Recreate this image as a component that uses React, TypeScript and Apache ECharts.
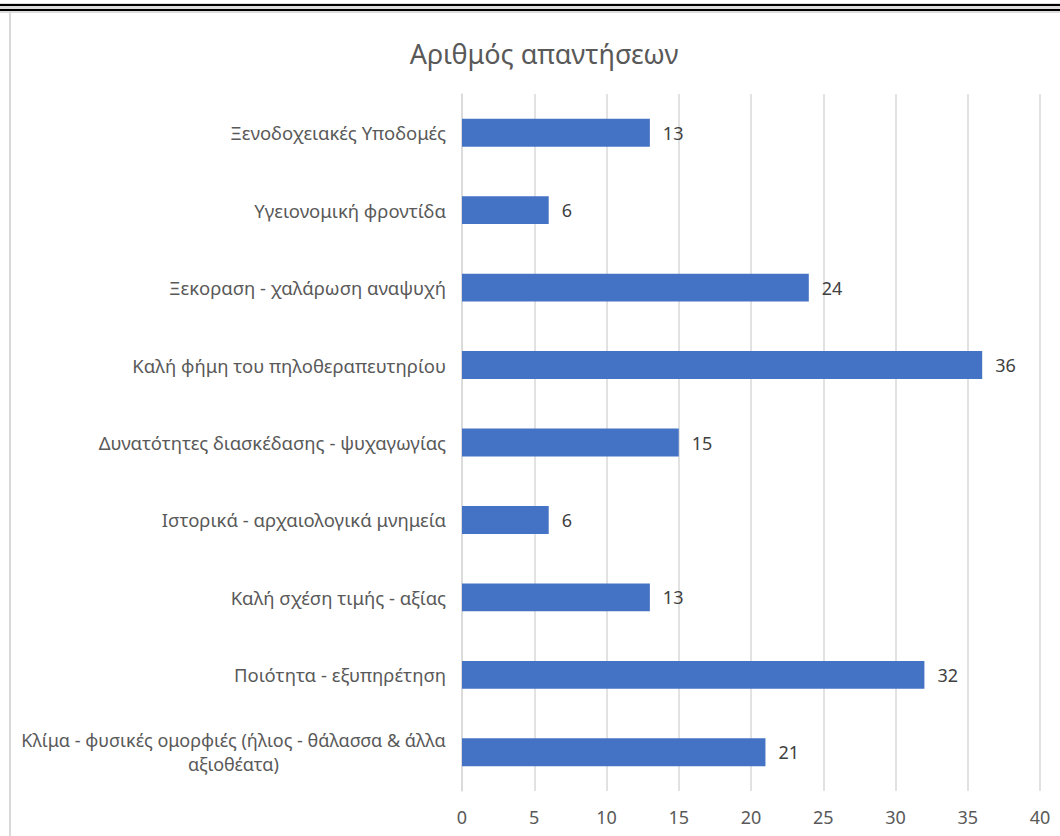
import React, { useEffect, useRef } from "react";
import * as echarts from "echarts";

const categories = [
  "Ξενοδοχειακές Υποδομές",
  "Υγειονομική φροντίδα",
  "Ξεκοραση - χαλάρωση αναψυχή",
  "Καλή φήμη του πηλοθεραπευτηρίου",
  "Δυνατότητες διασκέδασης - ψυχαγωγίας",
  "Ιστορικά - αρχαιολογικά μνημεία",
  "Καλή σχέση τιμής - αξίας",
  "Ποιότητα - εξυπηρέτηση",
  "Κλίμα - φυσικές ομορφιές (ήλιος - θάλασσα & άλλα\nαξιοθέατα)",
];
const values = [13, 6, 24, 36, 15, 6, 13, 32, 21];
const title = "Αριθμός απαντήσεων";
const FONT = "'Noto Sans', sans-serif";

export default function App() {
  const ref = useRef<HTMLDivElement>(null);
  useEffect(() => {
    const chart = echarts.init(ref.current!, null, { renderer: "svg" });
    chart.setOption({
      animation: false,
      backgroundColor: "#ffffff",
      title: {
        text: title,
        left: 539,
        top: 35,
        textAlign: "center",
        textStyle: { fontFamily: FONT, fontSize: 27, fontWeight: "normal", color: "#595959" },
      },
      grid: { left: 462, right: 20, top: 94, bottom: 45, containLabel: false },
      xAxis: {
        type: "value",
        min: 0,
        max: 40,
        interval: 5,
        axisLine: { show: false },
        axisTick: { show: false },
        splitLine: { show: true, lineStyle: { color: "#d9d9d9", width: 1.5 } },
        axisLabel: { fontFamily: FONT, fontSize: 18, color: "#595959", margin: 17 },
      },
      yAxis: {
        type: "category",
        inverse: true,
        data: categories,
        axisLine: { show: true, lineStyle: { color: "#d9d9d9", width: 1.5 } },
        axisTick: { show: false },
        axisLabel: {
          fontFamily: FONT,
          fontSize: 18.5,
          color: "#595959",
          margin: 16,
          lineHeight: 24,
          formatter: (v: string) => {
            if (v.indexOf("\n") >= 0) {
              return v.split("\n").map((s) => `{c|${s}}`).join("\n");
            }
            return v;
          },
          rich: {
            c: { width: 425, align: "center", fontFamily: FONT, fontSize: 18, color: "#595959", lineHeight: 24 },
          },
        },
      },
      series: [
        {
          type: "bar",
          data: values,
          barWidth: "36%",
          itemStyle: { color: "#4472C4" },
          label: {
            show: true,
            position: "right",
            distance: 13,
            fontFamily: FONT,
            fontSize: 18,
            color: "#404040",
          },
        },
      ],
      graphic: [
        { type: "rect", shape: { x: 0, y: 3, width: 1060, height: 10 }, style: { fill: "#dcdcdc" }, silent: true },
        { type: "rect", shape: { x: 0, y: 4, width: 1060, height: 2 }, style: { fill: "#000000" }, silent: true },
        { type: "rect", shape: { x: 0, y: 9, width: 1060, height: 2 }, style: { fill: "#000000" }, silent: true },
        { type: "rect", shape: { x: 0, y: 13, width: 1060, height: 1 }, style: { fill: "#ffffff" }, silent: true },
        { type: "rect", shape: { x: 9, y: 12, width: 2, height: 824 }, style: { fill: "#d9d9d9" }, silent: true },
      ],
    });
    return () => chart.dispose();
  }, []);
  return <div ref={ref} style={{ position: "fixed", left: 0, top: 0, width: 1060, height: 836 }} />;
}
